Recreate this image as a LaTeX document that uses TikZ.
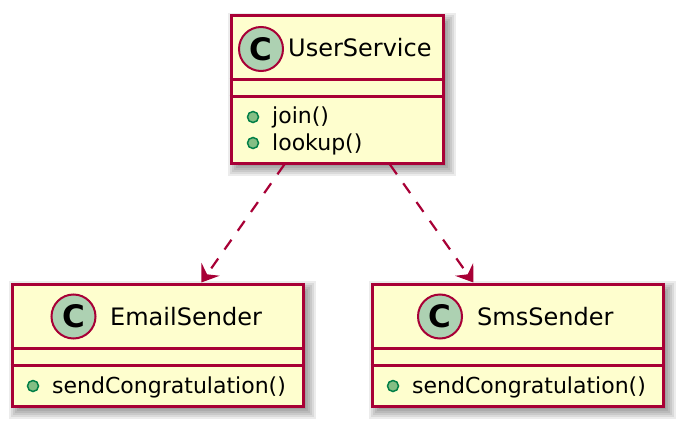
\documentclass[tikz,border=0pt]{standalone}
\usepackage{fontspec}
\setmainfont{DejaVu Sans}
\usetikzlibrary{arrows.meta}
\definecolor{umlborder}{HTML}{A80036}
\definecolor{umlfill}{HTML}{FEFECE}
\definecolor{circfill}{HTML}{ADD1B2}
\definecolor{dotfill}{HTML}{84BE84}
\definecolor{dotborder}{HTML}{038048}
\newcommand{\softshadow}[4]{%
  \foreach \e in {-4,-2,0,2,4,6,8}{%
    \fill[black,opacity=0.075] ({#1+5-\e},{#2+5-\e}) rectangle ({#3+5+\e},{#4+5+\e});}}
\begin{document}
\begin{tikzpicture}[x=1pt,y=-1pt,
  classbox/.style={draw=umlborder, fill=umlfill, line width=3pt, rectangle, inner sep=0pt},
  sepline/.style={draw=umlborder, line width=3pt},
  classicon/.style={circle, draw=umlborder, fill=circfill, line width=2pt, minimum size=44pt, inner sep=0pt, font=\fontsize{31}{31}\selectfont\bfseries},
  titletext/.style={anchor=base west, inner sep=0pt, font=\fontsize{24}{24}\selectfont},
  membertext/.style={anchor=base west, inner sep=0pt, font=\fontsize{22}{22}\selectfont},
  pubdot/.style={circle, draw=dotborder, fill=dotfill, line width=1.5pt, minimum size=11pt, inner sep=0pt},
  dep/.style={draw=umlborder, line width=2.2pt, dash pattern=on 12pt off 11pt, -{Stealth[length=16pt, width=22pt, inset=6pt]}},
]
\useasboundingbox (0,0) rectangle (682,425);
\fill[white] (0,0) rectangle (682,425);

% shadows
\softshadow{231}{16}{443}{163}
\softshadow{12}{284}{303}{406}
\softshadow{372}{284}{663}{406}

% UserService
\node[classbox, minimum width=212pt, minimum height=147pt] (us) at (337,89.5) {};
\draw[sepline] (us.west |- 0,80) -- (us.east |- 0,80);
\draw[sepline] (us.west |- 0,97) -- (us.east |- 0,97);
\node[classicon] (usicon) at (261,49) {C};
\node[titletext] (ustitle) at (288,57) {UserService};
\node[pubdot] (usdot1) at (253,117) {};
\node[membertext] (usm1) at (272,124) {join()};
\node[pubdot] (usdot2) at (253,143) {};
\node[membertext] (usm2) at (272,150) {lookup()};

% EmailSender
\node[classbox, minimum width=291pt, minimum height=122pt] (es) at (157.5,345) {};
\draw[sepline] (es.west |- 0,348) -- (es.east |- 0,348);
\draw[sepline] (es.west |- 0,365) -- (es.east |- 0,365);
\node[classicon] (esicon) at (73.5,316.5) {C};
\node[titletext] (estitle) at (110,325) {EmailSender};
\node[pubdot] (esdot) at (33,386) {};
\node[membertext] (esm) at (52,393) {sendCongratulation()};

% SmsSender
\node[classbox, minimum width=291pt, minimum height=122pt] (ss) at (517.5,345) {};
\draw[sepline] (ss.west |- 0,348) -- (ss.east |- 0,348);
\draw[sepline] (ss.west |- 0,365) -- (ss.east |- 0,365);
\node[classicon] (ssicon) at (440,316.5) {C};
\node[titletext] (sstitle) at (477,325) {SmsSender};
\node[pubdot] (ssdot) at (393,386) {};
\node[membertext] (ssm) at (412,393) {sendCongratulation()};

% dependencies
\draw[dep] (us) -- (es);
\draw[dep] (us) -- (ss);
\end{tikzpicture}
\end{document}
